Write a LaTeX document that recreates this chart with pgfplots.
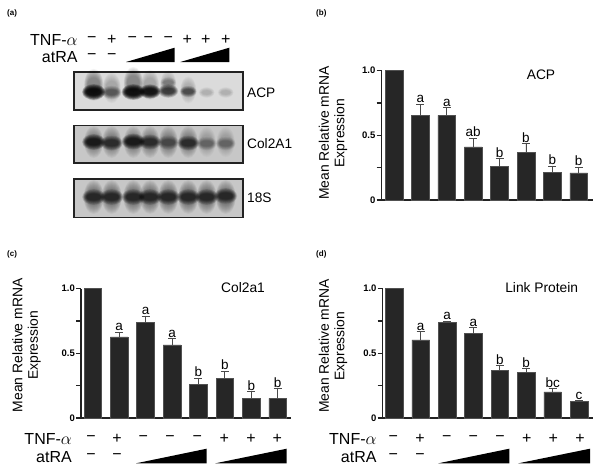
\documentclass[border=0pt]{standalone}
\usepackage{pgfplots}
\pgfplotsset{compat=1.18}
\usepackage{fontspec}
\setmainfont{Liberation Sans}
\definecolor{barc}{HTML}{262626}
\definecolor{axc}{HTML}{222222}
\definecolor{errc}{HTML}{4A4A4A}
\def\blobfill#1#2{\pgfpathellipse{\pgfpointorigin}{\pgfqpoint{#1\pgfplotmarksize}{0pt}}{\pgfqpoint{0pt}{#2\pgfplotmarksize}}\pgfusepathqfill}
\pgfdeclareplotmark{band}{\blobfill{1.05}{.72}\blobfill{1.0}{.66}\blobfill{.95}{.60}\blobfill{.91}{.55}\blobfill{.87}{.50}\blobfill{.83}{.45}\blobfill{.79}{.41}\blobfill{.75}{.37}\blobfill{.70}{.33}\blobfill{.65}{.29}}
\pgfdeclareplotmark{smear}{\blobfill{1.0}{1.7}\blobfill{.97}{1.6}\blobfill{.93}{1.5}\blobfill{.9}{1.4}\blobfill{.86}{1.3}\blobfill{.82}{1.2}\blobfill{.78}{1.1}\blobfill{.74}{1.0}\blobfill{.7}{.9}\blobfill{.66}{.8}}
\pgfplotsset{
  barax/.style={
    scale only axis, width=#1, height=129.3pt, anchor=south west,
    axis x line=bottom, axis y line=left, x axis line style={line width=1.3pt,color=axc,-}, y axis line style={line width=1.3pt,color=axc,-},
    ymin=0, ymax=1, xtick=\empty,
    ytick={0,.25,.5,.75,1}, yticklabels={0,,0.5,,1.0},
    y tick style={line width=1.2pt,color=axc}, major tick length=5pt, ytick align=outside,
    yticklabel style={font=\fontsize{9.5}{10}\selectfont\bfseries, inner sep=1pt},
    clip=false, ybar=0pt, bar width=17.7pt, bar shift=0pt},
  solidbar/.style={fill=barc, draw=barc!80, line width=.5pt},
  ebars/.style={fill=barc, draw=barc!80, line width=.5pt,
    error bars/.cd, y dir=plus, y explicit,
    error bar style={line width=.8pt,color=errc},
    error mark options={rotate=90,mark size=4pt,line width=.8pt,color=errc}},
  lets/.style={draw=none, fill=none, mark=none, nodes near coords, point meta=explicit symbolic,
    nodes near coords style={font=\fontsize{13.5}{14}\selectfont, anchor=south, inner sep=1pt, text=black}},
  blot/.style={
    scale only axis, width=169pt, height=#1, anchor=north west,
    xmin=74, xmax=243, y dir=reverse, xtick=\empty, ytick=\empty,
    axis line style={line width=1.2pt,color=axc}, clip=true},
  bl/.style n args={3}{only marks, mark=#1, mark size=#2,
    mark options={draw=none, fill=black, fill opacity=#3}}
}
\newcommand\ylab[3]{\node[rotate=90,font=\fontsize{13.9}{14}\selectfont] at (#1,#3) {Mean Relative mRNA};
  \node[rotate=90,font=\fontsize{13.9}{14}\selectfont] at (#2,#3) {Expression};}
\newcommand\rowlab[3]{\node[font=\fontsize{16}{16}\selectfont, anchor=east, inner sep=0pt] at (#1,#2) {#3};}
\newcommand\sgnn[3]{\node[font=\fontsize{16}{16}\selectfont, inner sep=0pt] at (#1,#2) {#3};}
\newcommand\wdg[4]{\fill[black] (#1,#4) -- (#2,#4) -- (#2,#3) -- cycle;}
\begin{document}
\begin{tikzpicture}[x=1pt,y=-1pt]
\path (0,0) rectangle (600,472);
% ---------- (b)
\begin{axis}[barax=211.5pt, at={(381.5pt,-200pt)}, xmin=-0.473, xmax=7.54]
\addplot[solidbar] coordinates {(0,1)};
\addplot[ebars] coordinates {(1,.652)+-(0,.088)(2,.655)+-(0,.061)(3,.41)+-(0,.067)(4,.258)+-(0,.064)(5,.371)+-(0,.067)(6,.216)+-(0,.047)(7,.209)+-(0,.044)};
\addplot[lets] coordinates {(1,.74)[a](2,.716)[a](3,.477)[ab](4,.322)[b](5,.438)[b](6,.263)[b](7,.253)[b]};
\end{axis}
% ---------- (c)
\begin{axis}[barax=209.7pt, at={(81pt,-418pt)}, xmin=-0.443, xmax=7.49]
\addplot[solidbar] coordinates {(0,1)};
\addplot[ebars] coordinates {(1,.627)+-(0,.036)(2,.74)+-(0,.049)(3,.566)+-(0,.048)(4,.262)+-(0,.046)(5,.308)+-(0,.054)(6,.152)+-(0,.054)(7,.152)+-(0,.077)};
\addplot[lets] coordinates {(1,.663)[a](2,.789)[a](3,.614)[a](4,.308)[b](5,.362)[b](6,.206)[b](7,.229)[b]};
\end{axis}
% ---------- (d)
\begin{axis}[barax=210.3pt, at={(382.7pt,-418pt)}, xmin=-0.44, xmax=7.53]
\addplot[solidbar] coordinates {(0,1)};
\addplot[ebars] coordinates {(1,.604)+-(0,.064)(2,.74)+-(0,.011)(3,.653)+-(0,.046)(4,.368)+-(0,.038)(5,.352)+-(0,.031)(6,.203)+-(0,.026)(7,.131)+-(0,.005)};
\addplot[lets] coordinates {(1,.668)[a](2,.751)[a](3,.699)[a](4,.406)[b](5,.383)[b](6,.229)[bc](7,.136)[c]};
\end{axis}
% ---------- (a) blots
\begin{axis}[blot=38pt, at={(74pt,-72pt)}, ymin=72, ymax=110, axis background/.style={fill=black!14}]
\addplot[bl={smear}{9.5pt}{.045}] coordinates {(93.7,85)(133.3,83)};
\addplot[bl={smear}{9pt}{.025}] coordinates {(111.7,88)(150,85)};
\addplot[bl={smear}{8pt}{.018}] coordinates {(168.3,84)(188.3,90)};
\addplot[bl={band}{11pt}{.2}] coordinates {(93.7,92)(133.3,92)};
\addplot[bl={band}{10pt}{.18}] coordinates {(150,91.5)};
\addplot[bl={band}{9.5pt}{.06}] coordinates {(111.7,92.5)};
\addplot[bl={band}{9.5pt}{.1}] coordinates {(168.3,91)};
\addplot[bl={band}{7.5pt}{.03}] coordinates {(168.3,82.5)};
\addplot[bl={band}{8pt}{.08}] coordinates {(188.3,91.5)};
\addplot[bl={band}{7.5pt}{.02}] coordinates {(206.7,92.5)(225.7,92.5)};
\end{axis}
\begin{axis}[blot=37.7pt, at={(74pt,-125.3pt)}, ymin=125.3, ymax=163, axis background/.style={fill=black!22}]
\addplot[bl={smear}{9.5pt}{.035}] coordinates {(93.7,142)(111.7,142)(133.3,142)(150,142)(168.3,142)(188.3,142)};
\addplot[bl={smear}{9pt}{.018}] coordinates {(206.7,142)(225.7,142)};
\addplot[bl={band}{11pt}{.14}] coordinates {(93.7,142)(133.3,141.5)};
\addplot[bl={band}{10.5pt}{.1}] coordinates {(111.7,143)(150,142)};
\addplot[bl={band}{10pt}{.06}] coordinates {(168.3,142.5)};
\addplot[bl={band}{10.5pt}{.1}] coordinates {(188.3,143)};
\addplot[bl={band}{9.5pt}{.045}] coordinates {(206.7,143.5)(225.7,143.5)};
\end{axis}
\begin{axis}[blot=38.3pt, at={(74pt,-179pt)}, ymin=179, ymax=217.3, axis background/.style={fill=black!22}]
\addplot[bl={smear}{10pt}{.045}] coordinates {(93.7,197)(111.7,197)(133.3,197)(150,197)(168.3,197)(188.3,197)(206.7,197)(225.7,197)};
\addplot[bl={band}{11pt}{.1}] coordinates {(93.7,197)(111.7,197)(133.3,197)(150,197)(168.3,197)(188.3,197)(206.7,197)(225.7,196)};
\end{axis}
% ---------- text
\foreach \x/\y/\t in {7/13/(a),316/13/(b),7/254/(c),316/254/(d)}
  {\node[anchor=west,inner sep=0pt,font=\fontsize{8}{8}\selectfont\bfseries] at (\x,\y) {\t};}
\node[anchor=west,inner sep=0pt,font=\fontsize{13.7}{14}\selectfont] at (247,92.7) {ACP};
\node[anchor=west,inner sep=0pt,font=\fontsize{13.7}{14}\selectfont] at (247,144) {Col2A1};
\node[anchor=west,inner sep=0pt,font=\fontsize{13.7}{14}\selectfont] at (247,197.3) {18S};
\rowlab{77.7}{40}{TNF-$\alpha$}\rowlab{77.7}{57}{atRA}
\foreach \x/\s in {91.7/−,111.7/+,132.3/−,148.3/−,168.3/−,187.3/+,205.7/+,225.7/+} {\sgnn{\x}{40}{\s}}
\foreach \x in {91.7,111.7} {\sgnn{\x}{57}{−}}
\wdg{126}{174.7}{47.7}{62}\wdg{180.3}{229.3}{47.7}{62}
\node[font=\fontsize{13.8}{14}\selectfont] at (541,75) {ACP};
\ylab{324}{340.7}{133}
\node[font=\fontsize{13.8}{14}\selectfont] at (243,287.5) {Col2a1};
\ylab{17.3}{34.3}{345.3}
\rowlab{72}{439}{TNF-$\alpha$}\rowlab{72}{457}{atRA}
\foreach \x/\s in {91/−,117/+,143.3/−,170/−,197.3/−,224.3/+,251/+,277.3/+} {\sgnn{\x}{439}{\s}}
\foreach \x in {91,117} {\sgnn{\x}{457}{−}}
\wdg{136}{206.7}{448.7}{463.3}\wdg{215.3}{286.7}{448.7}{463.3}
\node[font=\fontsize{13.8}{14}\selectfont] at (541.7,287.5) {Link Protein};
\ylab{324}{340.7}{346}
\rowlab{376.7}{439}{TNF-$\alpha$}\rowlab{376.7}{457}{atRA}
\foreach \x/\s in {393.3/−,420/+,446.7/−,473.3/−,500/−,526.7/+,553.3/+,580/+} {\sgnn{\x}{439}{\s}}
\foreach \x in {393.3,420} {\sgnn{\x}{457}{−}}
\wdg{438.3}{509.3}{448.7}{463.3}\wdg{518.3}{590}{448.7}{463.3}
\end{tikzpicture}
\end{document}
